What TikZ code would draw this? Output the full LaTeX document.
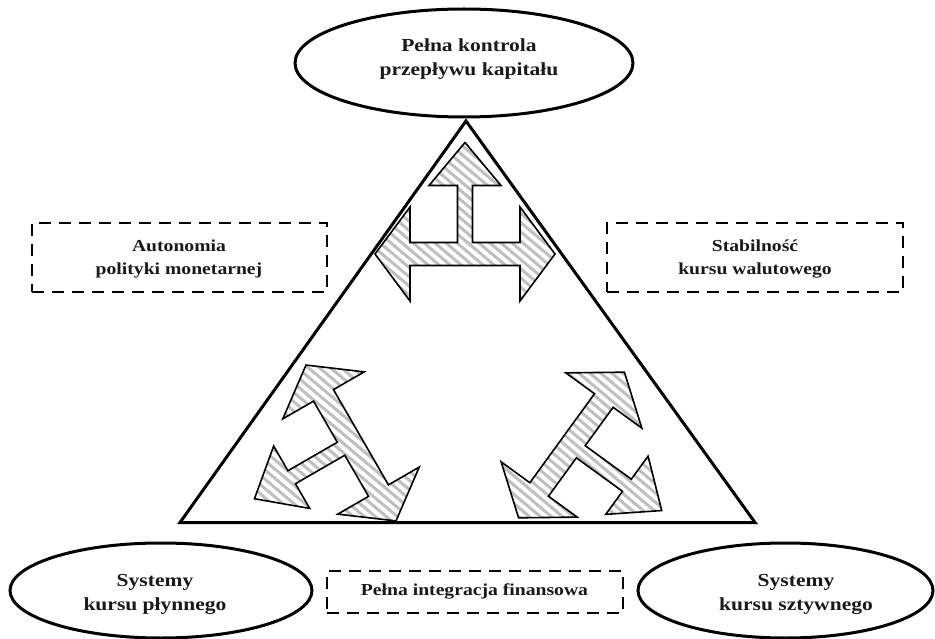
\documentclass[tikz,border=0pt]{standalone}
\usepackage{fontspec}
\usetikzlibrary{shapes.geometric}
\newfontfamily\lbl{Liberation Serif Bold}[FakeStretch=1.17]
\tikzset{
  tri/.style={line width=3pt, line join=miter},
  oval/.style={draw, ellipse, line width=3pt, inner sep=0pt},
  dbox/.style={draw, line width=2.8pt, dash pattern=on 12pt off 8pt, inner sep=0pt},
  lbltext/.style={font=\lbl\fontsize{16.8}{23}\selectfont, align=center, text=black!90, inner sep=0pt},
  ovaltext/.style={font=\lbl\fontsize{18.4}{24}\selectfont, align=center, text=black!90, inner sep=0pt},
  arrowline/.style={line width=1.6pt, line join=miter},
  stripe/.style={line width=3pt, black!25}
}
\newcommand\tarrowpath[1]{\path[#1] (0,111.5) -- (-36,68.5) -- (-7.5,68.5) -- (-7.5,11.5) -- (-55,11.5) -- (-55,47) -- (-90,0) -- (-55,-47) -- (-55,-11.5) -- (55,-11.5) -- (55,-47) -- (90,0) -- (55,47) -- (55,11.5) -- (7.5,11.5) -- (7.5,68.5) -- (36,68.5) -- cycle;}
\newcommand\hatchedarrow[1]{%
  \begin{scope}
    \tarrowpath{clip,#1}
    \foreach \i in {-800,-789,...,935} \draw[stripe] (\i,0) -- ({\i+760},-639);
  \end{scope}
  \tarrowpath{draw,arrowline,#1}}
\begin{document}
\begin{tikzpicture}[x=1pt,y=1pt]
\useasboundingbox (0,0) rectangle (935,-639);
% triangle
\coordinate (apex) at (466,-121);
\coordinate (bl) at (180,-522.5);
\coordinate (br) at (755,-522.5);
\draw[tri] (apex) -- (bl) -- (br) -- cycle;
% hatched arrows
\hatchedarrow{shift={(465,-254)}}
\hatchedarrow{shift={(351,-443)},rotate=120}
\hatchedarrow{shift={(571.5,-445)},rotate=-126}
% ellipses
\node[oval, minimum width=338pt, minimum height=108pt] (topov) at (464,-63) {};
\node[oval, minimum width=302pt, minimum height=95pt] (leftov) at (161,-590.5) {};
\node[oval, minimum width=295pt, minimum height=95pt] (rightov) at (785.5,-590.5) {};
\node[ovaltext] (toptx) at (469,-59.5) {Pełna kontrola\\przepływu kapitału};
\node[ovaltext] (lefttx) at (155,-594.5) {Systemy\\kursu płynnego};
\node[ovaltext] (righttx) at (796,-594.5) {Systemy\\kursu sztywnego};
% dashed boxes
\node[dbox, minimum width=295pt, minimum height=69pt] (autobox) at (179.5,-257.5) {};
\node[dbox, minimum width=296pt, minimum height=69pt] (stabbox) at (755,-257.5) {};
\node[dbox, minimum width=296pt, minimum height=42pt] (integbox) at (475,-592) {};
\node[lbltext] (autotx) at (179,-259.4) {Autonomia\\polityki monetarnej};
\node[lbltext] (stabtx) at (755,-259.4) {Stabilność\\kursu walutowego};
\node[lbltext] (integtx) at (474.5,-591) {Pełna integracja finansowa};
\end{tikzpicture}
\end{document}
